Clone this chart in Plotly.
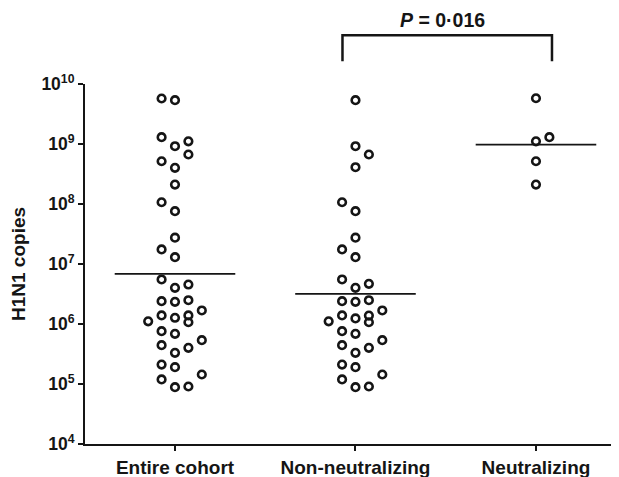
import plotly.graph_objects as go

# ---------------- data ----------------
categories = ["Entire cohort", "Non-neutralizing", "Neutralizing"]

entire_cohort = [5.73e9, 5.37e9, 1.30e9, 9.18e8, 1.11e9, 6.68e8, 5.16e8, 4.01e8,
                 2.11e8, 1.07e8, 7.59e7, 2.75e7, 1.75e7, 1.30e7, 5.52e6, 4.01e6,
                 4.55e6, 2.40e6, 2.34e6, 2.49e6, 1.68e6, 1.11e6, 1.39e6, 1.27e6,
                 1.39e6, 1.07e6, 7.59e5, 6.87e5, 5.37e5, 4.44e5, 4.01e5, 3.31e5,
                 2.11e5, 1.91e5, 1.44e5, 1.19e5, 8.85e4, 9.08e4]
non_neutralizing = [5.37e9, 9.18e8, 6.68e8, 4.10e8, 1.07e8, 7.59e7, 2.75e7, 1.75e7,
                    1.30e7, 5.52e6, 4.01e6, 4.68e6, 2.40e6, 2.34e6, 2.49e6, 1.68e6,
                    1.11e6, 1.39e6, 1.24e6, 1.38e6, 1.07e6, 7.59e5, 6.87e5, 5.37e5,
                    4.44e5, 4.01e5, 3.31e5, 2.11e5, 1.91e5, 1.44e5, 1.19e5, 8.85e4,
                    9.08e4]
neutralizing = [5.79e9, 1.11e9, 1.30e9, 5.16e8, 2.11e8]

medians = [6.87e6, 3.18e6, 9.77e8]

y_tickvals = [1e4, 1e5, 1e6, 1e7, 1e8, 1e9, 1e10]
y_ticktext = ["10<sup>4</sup>", "10<sup>5</sup>", "10<sup>6</sup>", "10<sup>7</sup>",
              "10<sup>8</sup>", "10<sup>9</sup>", "10<sup>10</sup>"]

p_label = "<i>P</i> = 0·016"
y_title = "H1N1 copies"

# ---------------- layout helpers (swarm slots, not data) ----------------
slots_entire = [-1, 0, -1, 0, 1, 1, -1, 0, 0, -1, 0, 0, -1, 0, -1, 0, 1, -1, 0, 1,
                2, -2, -1, 0, 1, 1, -1, 0, 2, -1, 1, 0, -1, 0, 2, -1, 0, 1]
slots_non = [0, 0, 1, 0, -1, 0, 0, -1, 0, -1, 0, 1, -1, 0, 1, 2, -2, -1, 0, 1, 1,
             -1, 0, 2, -1, 1, 0, -1, 0, 2, -1, 0, 1]
slots_neu = [0, 0, 1, 0, 0]

X0, X1 = -0.4986, 2.46
SLOT = 13.4 / 180.4   # slot spacing in category units
HALF = 0.334          # half width of the median bar

FONT = "Liberation Sans, Arial, sans-serif"
INK = "#151515"

# the page body adds an 8px offset; the figure is sized to end at the window edge
W, H = 611, 469
ML, MT, MB, MR = 77, 76, 33, 0
PLOT_W = W - ML - MR

groups = [entire_cohort, non_neutralizing, neutralizing]
slots = [slots_entire, slots_non, slots_neu]

fig = go.Figure()
for i, (vals, sl) in enumerate(zip(groups, slots)):
    fig.add_trace(go.Scatter(
        x=[i + s * SLOT for s in sl], y=vals, mode="markers",
        marker=dict(symbol="circle-open", size=7.6, color=INK,
                    line=dict(width=2.6, color=INK)),
        showlegend=False, cliponaxis=False))
    fig.add_trace(go.Scatter(
        x=[i - HALF, i + HALF], y=[medians[i], medians[i]], mode="lines",
        line=dict(color=INK, width=1.8), showlegend=False))

def to_paper(xd):
    return (xd - X0) / (X1 - X0)

# significance bracket between Non-neutralizing and Neutralizing
bl, br = to_paper(1 - 13 / 180.4), to_paper(2 + 16 / 180.4)
yb_top, yb_bot = 1.1356, 1.0634
fig.add_shape(type="path", xref="paper", yref="paper",
              path=f"M {bl},{yb_bot} L {bl},{yb_top} L {br},{yb_top} L {br},{yb_bot}",
              line=dict(color=INK, width=2.5))
fig.add_annotation(text=p_label, xref="paper", yref="paper",
                   x=(bl + br) / 2 - 0.009, y=1.178, showarrow=False,
                   xanchor="center", yanchor="middle",
                   font=dict(family=FONT, size=19.5, color=INK, weight="bold"))
fig.add_annotation(text=y_title, xref="paper", yref="paper",
                   x=-67 / PLOT_W, y=0.5, textangle=-90, showarrow=False,
                   xanchor="center", yanchor="middle",
                   font=dict(family=FONT, size=19, color=INK, weight="bold"))

fig.update_layout(
    width=W, height=H,
    margin=dict(l=ML, r=MR, t=MT, b=MB, pad=0),
    paper_bgcolor="white", plot_bgcolor="white",
    xaxis=dict(range=[X0, X1], tickvals=[0, 1, 2], ticktext=categories,
               showline=True, linecolor=INK, linewidth=2,
               ticks="outside", ticklen=5, tickwidth=1.5, tickcolor=INK,
               showgrid=False, zeroline=False, automargin=False,
               tickfont=dict(family=FONT, size=19, color=INK, weight="bold")),
    yaxis=dict(type="log", range=[4, 10], tickvals=y_tickvals, ticktext=y_ticktext,
               showline=True, linecolor=INK, linewidth=2,
               ticks="outside", ticklen=5, tickwidth=2, tickcolor=INK,
               showgrid=False, zeroline=False, automargin=False,
               tickfont=dict(family=FONT, size=17.5, color=INK, weight="bold")),
)

fig.write_html("out.html")
